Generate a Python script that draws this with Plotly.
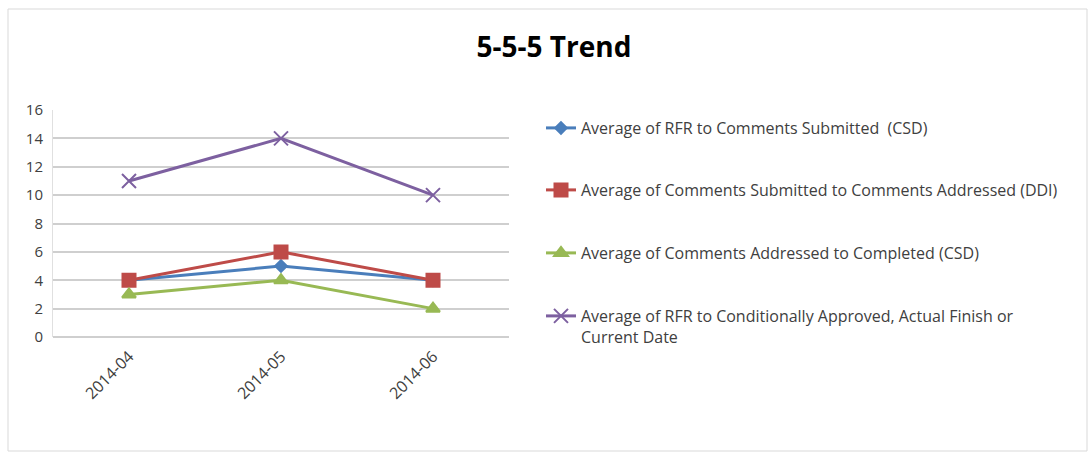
import plotly.graph_objects as go

# Reporting months and averaged durations (days) per stage
months = ["2014-04", "2014-05", "2014-06"]
rfr_to_submitted = [4, 5, 4]
submitted_to_addressed = [4, 6, 4]
addressed_to_completed = [3, 4, 2]
rfr_to_approved = [11, 14, 10]

series_names = [
    "Average of RFR to Comments Submitted  (CSD)",
    "Average of Comments Submitted to Comments Addressed (DDI)",
    "Average of Comments Addressed to Completed (CSD)",
    "Average of RFR to Conditionally Approved, Actual Finish or<br>Current Date",
]
y_ticks = [0, 2, 4, 6, 8, 10, 12, 14, 16]

W, H = 1092, 459
FONT = "Open Sans"
PLOT_L, PLOT_R, PLOT_T, PLOT_B = 53, 509, 110, 337


def px_x(px):
    """Horizontal pixel -> paper coordinate."""
    return (px - PLOT_L) / (PLOT_R - PLOT_L)


def px_y(py):
    """Vertical pixel -> paper coordinate."""
    return (PLOT_B - py) / (PLOT_B - PLOT_T)


styles = [
    dict(color="#4A7EBB", symbol="diamond", size=9),
    dict(color="#BE4B48", symbol="square", size=13),
    dict(color="#98B954", symbol="triangle-up", size=12),
    dict(color="#7D60A0", symbol="x-thin-open", size=14),
]
values = [rfr_to_submitted, submitted_to_addressed, addressed_to_completed, rfr_to_approved]

fig = go.Figure()
for i, (name, vals, st) in enumerate(zip(series_names, values, styles)):
    leg = "legend" if i == 0 else f"legend{i + 1}"
    fig.add_trace(go.Scatter(
        x=months, y=vals, name=name, mode="lines+markers",
        line=dict(color=st["color"], width=3),
        marker=dict(symbol=st["symbol"], size=st["size"], color=st["color"],
                    line=dict(color=st["color"], width=2)),
        legend=leg,
    ))

# One legend box per series so each entry sits at its own row
legend_tops = [111, 173, 236, 299]
legend_common = dict(
    xref="paper", yref="paper", x=px_x(541), xanchor="left", yanchor="top",
    font=dict(family=FONT, size=16, color="#404040"), bgcolor="rgba(0,0,0,0)",
    itemwidth=30, valign="top",
)
layout_legends = {}
for i, top in enumerate(legend_tops):
    key = "legend" if i == 0 else f"legend{i + 1}"
    layout_legends[key] = dict(legend_common, y=px_y(top))

# Light border around the whole chart
fig.add_shape(type="rect", xref="paper", yref="paper",
              x0=px_x(8), x1=px_x(1087), y0=px_y(451), y1=px_y(9),
              line=dict(color="#d9d9d9", width=1), layer="below")

fig.update_layout(
    width=W, height=H,
    margin=dict(l=PLOT_L, r=W - PLOT_R, t=PLOT_T, b=H - PLOT_B, autoexpand=False),
    paper_bgcolor="white", plot_bgcolor="white",
    showlegend=True,
    title=dict(text="<b>5-5-5 Trend</b>", x=554 / W, xanchor="center",
               y=1 - 47 / H, yanchor="middle",
               font=dict(family=FONT, size=28, color="#000000")),
    xaxis=dict(type="category", range=[-0.5, 2.5], showgrid=False,
               showline=False, ticks="", tickangle=-45, ticklabelstandoff=6,
               tickfont=dict(family=FONT, size=16, color="#404040")),
    yaxis=dict(range=[0, 16], tickvals=y_ticks, showgrid=True,
               gridcolor="#cfcfcf", gridwidth=2,
               zeroline=True, zerolinecolor="#cfcfcf", zerolinewidth=2,
               showline=True, linecolor="#e0e0e0", linewidth=1,
               ticks="", ticklen=0, ticklabelstandoff=6,
               tickfont=dict(family=FONT, size=15, color="#404040")),
    **layout_legends,
)

fig.write_html("out.html")
